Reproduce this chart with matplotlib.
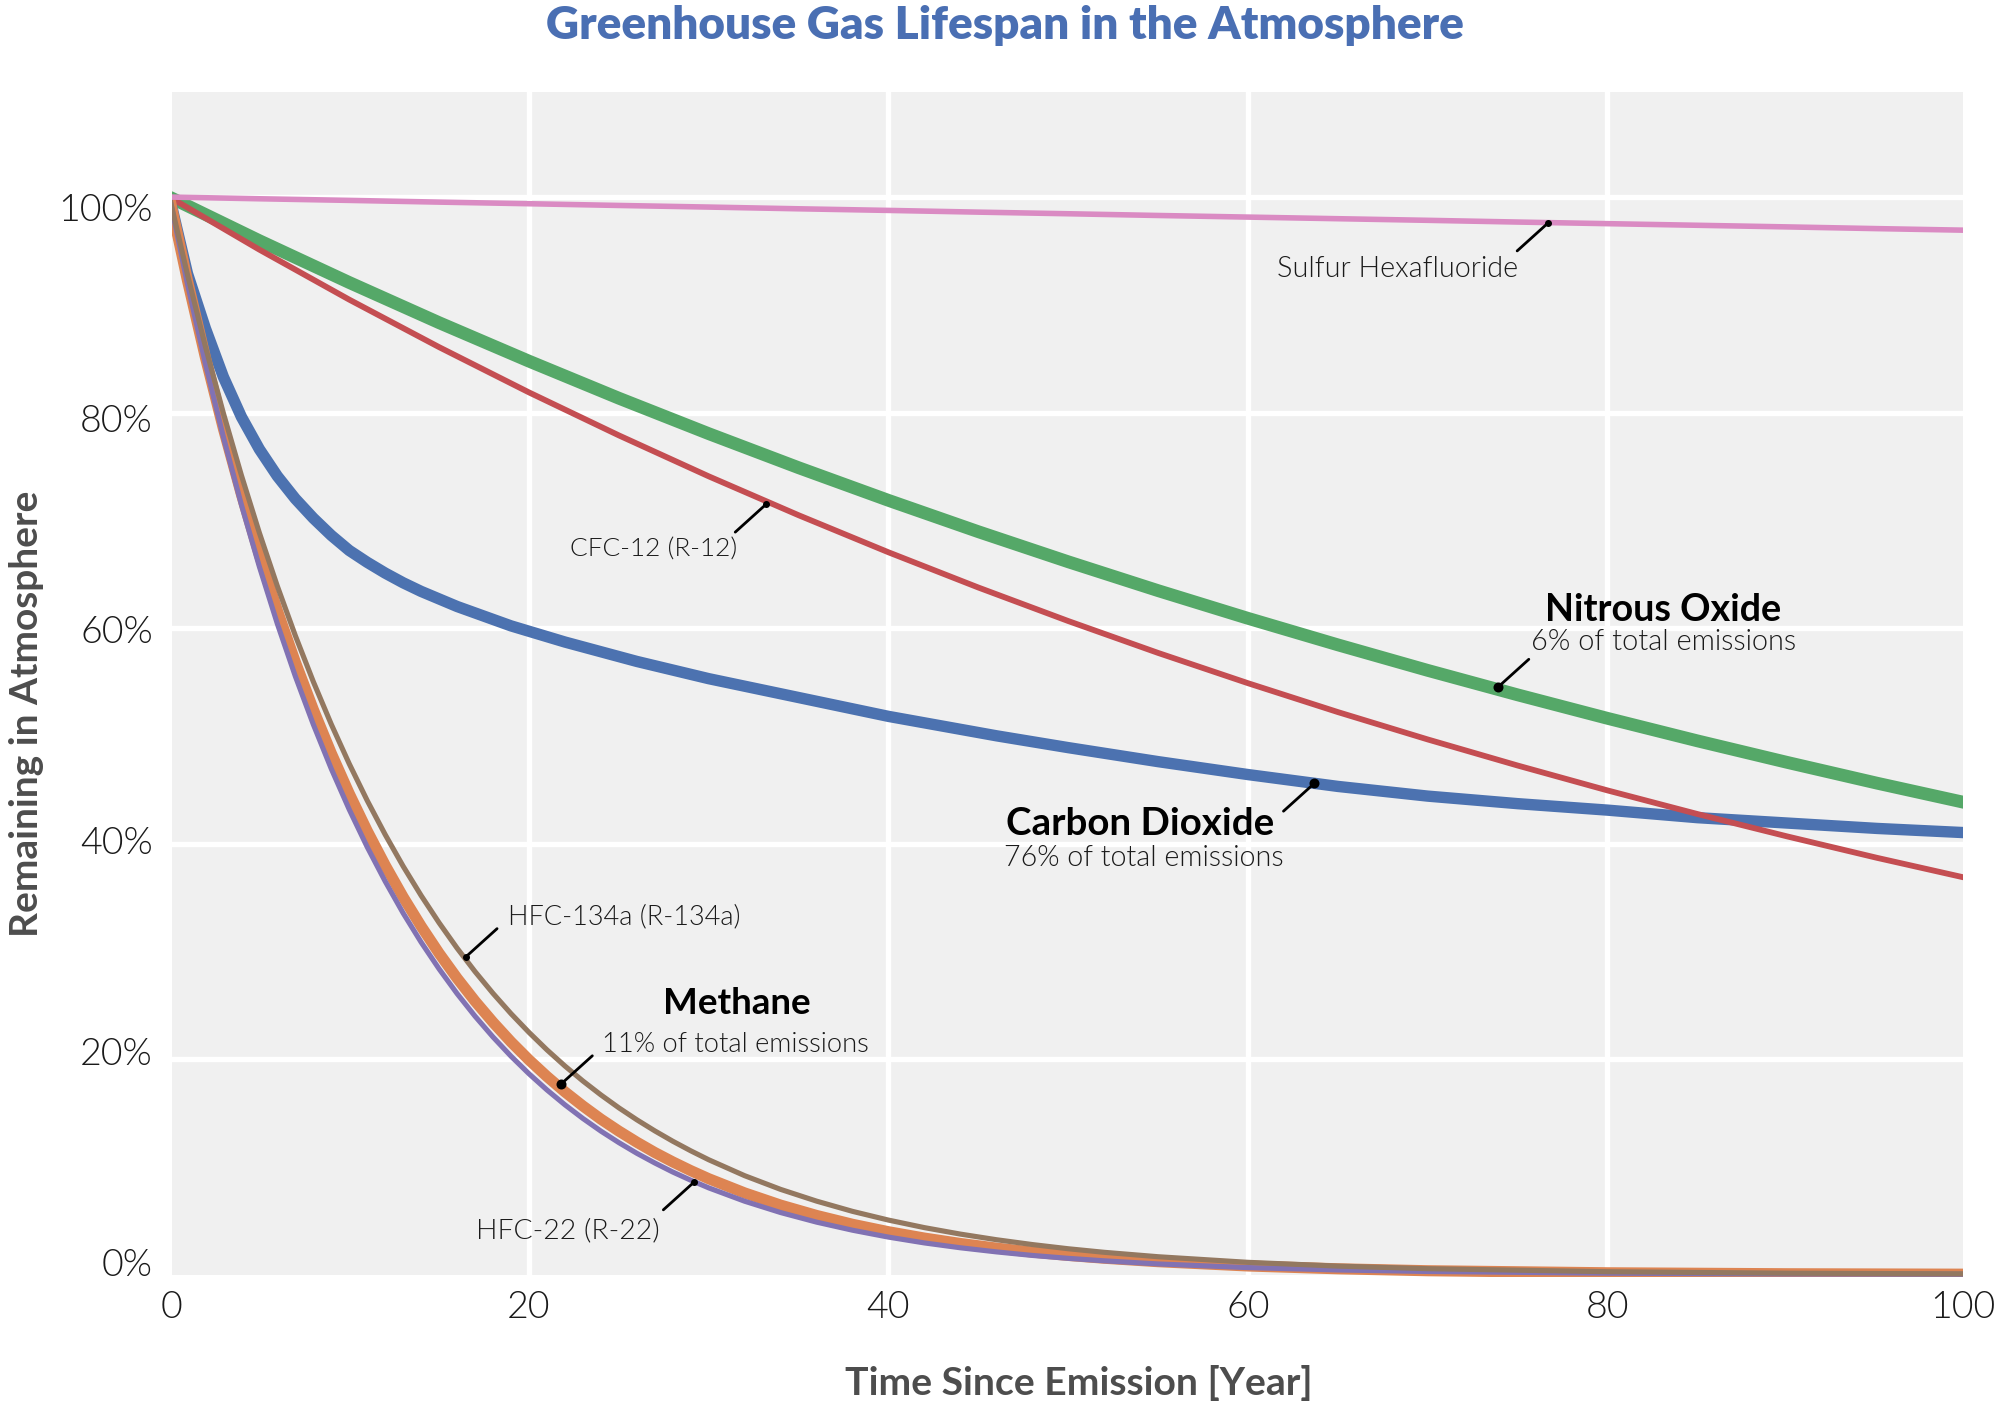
import matplotlib
matplotlib.use('Agg')
from matplotlib import pyplot as plt
from matplotlib.patches import Rectangle
from matplotlib.transforms import ScaledTranslation

# values, in % remaining
years_slow = [0, 5, 10, 15, 20, 25, 30, 35, 40, 45, 50, 55, 60, 65, 70, 75, 80, 85, 90, 95, 100]
nitrous_oxide = [100, 95.95, 92.07, 88.34, 84.77, 81.33, 78.04, 74.88, 71.85, 68.94, 66.15, 63.47, 60.90, 58.44, 56.07, 53.80, 51.62, 49.53, 47.53, 45.60, 43.76]
cfc_12 = [100, 95.12, 90.48, 86.07, 81.87, 77.88, 74.08, 70.47, 67.03, 63.76, 60.65, 57.69, 54.88, 52.20, 49.66, 47.24, 44.93, 42.74, 40.66, 38.67, 36.79]
sf6 = [100, 99.84, 99.69, 99.53, 99.38, 99.22, 99.07, 98.91, 98.76, 98.60, 98.45, 98.29, 98.14, 97.99, 97.84, 97.68, 97.53, 97.38, 97.23, 97.07, 96.92]

years_co2 = [0, 1, 2, 3, 4, 5, 6, 7, 8, 9, 10, 11, 12, 13, 14, 15, 16, 17, 18, 19, 20, 22, 24, 26, 28, 30, 32, 34, 36, 38, 40, 43, 46, 50, 55, 60, 65, 70, 75, 80, 85, 90, 95, 100]
carbon_dioxide = [100, 92.9, 87.8, 83.3, 79.6, 76.6, 74.1, 72.0, 70.2, 68.6, 67.2, 66.1, 65.1, 64.2, 63.4, 62.7, 62.0, 61.4, 60.8, 60.2, 59.7, 58.7, 57.8, 56.9, 56.1, 55.3, 54.6, 53.9, 53.2, 52.5, 51.8, 50.9, 50.0, 48.9, 47.6, 46.4, 45.3, 44.4, 43.7, 43.1, 42.4, 41.9, 41.4, 41]

years_fast = [0, 1, 2, 3, 4, 5, 6, 7, 8, 9, 10, 11, 12, 13, 14, 15, 16, 17, 18, 19, 20, 21, 22, 23, 24, 25, 26, 27, 28, 29, 30,
              32, 34, 36, 38, 40, 42, 44, 46, 48, 50, 52, 55, 60, 65, 70, 80, 90, 100]
hfc_22 = [100, 91.94, 84.53, 77.72, 71.45, 65.70, 60.40, 55.53, 51.06, 46.94, 43.16, 39.68, 36.49, 33.54, 30.84, 28.36, 26.07, 23.97, 22.04, 20.26, 18.63, 17.13, 15.75, 14.48, 13.31, 12.24, 11.25, 10.35, 9.51, 8.75, 8.04,
          6.80, 5.75, 4.86, 4.11, 3.47, 2.93, 2.48, 2.10, 1.77, 1.50, 1.27, 0.98, 0.64, 0.42, 0.28, 0.12, 0.05, 0.02]
methane = [100, 92.25, 85.10, 78.50, 72.42, 66.80, 61.63, 56.85, 52.44, 48.38, 44.63, 41.17, 37.98, 35.03, 32.32, 29.81, 27.50, 25.37, 23.41, 21.59, 19.92, 18.38, 16.95, 15.64, 14.42, 13.31, 12.28, 11.32, 10.45, 9.64, 8.89,
           7.57, 6.44, 5.48, 4.66, 3.97, 3.38, 2.88, 2.45, 2.08, 1.77, 1.51, 1.19, 0.79, 0.53, 0.35, 0.16, 0.07, 0.03]
hfc_134a = [100, 92.81, 86.12, 79.93, 74.18, 68.84, 63.89, 59.30, 55.03, 51.07, 47.40, 43.99, 40.83, 37.89, 35.17, 32.64, 30.29, 28.11, 26.09, 24.21, 22.47, 20.85, 19.35, 17.96, 16.67, 15.47, 14.36, 13.33, 12.37, 11.48, 10.65,
            9.17, 7.90, 6.81, 5.86, 5.05, 4.35, 3.75, 3.23, 2.78, 2.39, 2.06, 1.65, 1.13, 0.78, 0.54, 0.26, 0.12, 0.06]

x_ticks = [0, 20, 40, 60, 80, 100]
y_ticks = [0, 20, 40, 60, 80, 100]

FIG_W, FIG_H = 2000, 1405
FONT = 'Lato'
LIGHT = 300
XMIN, XMAX = 0.14, 99.78

fig = plt.figure(figsize=(20, 14.05), dpi=100, facecolor='white')
ax = fig.add_axes([172 / FIG_W, 1 - 1274.5 / FIG_H, 1791 / FIG_W, 1182.5 / FIG_H])
ax.set_facecolor('#f0f0f0')
ax.set_xlim(XMIN, XMAX)
ax.set_ylim(0, 109.75)
for s in ax.spines.values():
    s.set_visible(False)

for v in x_ticks[1:-1]:
    ax.axvline(v, color='white', lw=3.8, zorder=1)
for v in y_ticks[1:]:
    ax.axhline(v, color='white', lw=3.8, zorder=1)

clip = Rectangle((0, -0.002), 1, 1.004, transform=ax.transAxes)
series = [
    (years_slow, nitrous_oxide, '#55a868', 9.2),
    (years_co2, carbon_dioxide, '#4c72b0', 8.2),
    (years_slow, cfc_12, '#c44e52', 4.2),
    (years_fast, methane, '#dd8452', 8.0),
    (years_fast, hfc_22, '#8172b3', 3.7),
    (years_fast, hfc_134a, '#937860', 3.7),
    (years_slow, sf6, '#da8bc3', 4.0),
]
for i, (xs, ys, color, lw) in enumerate(series):
    line, = ax.plot(xs, ys, color=color, lw=lw, solid_capstyle='butt', zorder=2 + i)
    line.set_clip_path(clip)

ax.set_xticks([XMIN] + x_ticks[1:-1] + [XMAX])
ax.set_xticklabels([str(v) for v in x_ticks], family=FONT, weight=LIGHT, fontsize=27, color='#1a1a1a')
ax.set_yticks(y_ticks)
ax.set_yticklabels([f'{v}%' for v in y_ticks], family=FONT, weight=LIGHT, fontsize=27, color='#1a1a1a')
ax.tick_params(length=0, pad=0)
# labels in the reference sit a little off their gridlines
for v, lab in zip(y_ticks, ax.get_yticklabels()):
    dy = (11.5 - 0.215 * v) / 100
    lab.set_transform(lab.get_transform() + ScaledTranslation(-19 / 100, dy, fig.dpi_scale_trans))
for lab in ax.get_xticklabels():
    lab.set_transform(lab.get_transform() + ScaledTranslation(0, -17 / 100, fig.dpi_scale_trans))


def put(text, x, y, size, weight=LIGHT, color='#1a1a1a', ha='left', **kw):
    fig.text(x / FIG_W, 1 - y / FIG_H, text, family=FONT, weight=weight, fontsize=size,
             color=color, ha=ha, va='center', **kw)


def pointer(x, y, dx, dy, r):
    ax.annotate('', xy=(x, y), xytext=(dx, dy), textcoords='offset pixels', zorder=20,
                arrowprops=dict(arrowstyle='-', color='black', lw=2, shrinkA=0, shrinkB=0))
    ax.plot([x], [y], 'o', color='black', ms=r * 2 * 0.72, mew=0, zorder=21)


pointer(73.9, 54.5, 31, 28, 5)
pointer(63.7, 45.6, -31, -28, 5)
pointer(21.8, 17.7, 31, 28, 5)
pointer(16.5, 29.5, 31, 28, 3.5)
pointer(29.2, 8.6, -31, -28, 3.5)
pointer(33.2, 71.5, -31, -28, 3.5)
pointer(76.7, 97.6, -31, -28, 3.5)

put('Greenhouse Gas Lifespan in the Atmosphere', 1005, 25, 33, weight=800, color='#4a6fb3', ha='center')
put('Time Since Emission [Year]', 1079, 1383, 28.2, weight='bold', color='#4d4d4d', ha='center')
put('Remaining in Atmosphere', 27, 714, 28, weight='bold', color='#4d4d4d', ha='center', rotation=90)

put('Sulfur Hexafluoride', 1277, 269, 20.7)
put('CFC-12 (R-12)', 570, 550, 18.9)
put('HFC-134a (R-134a)', 508, 917, 19.5)
put('HFC-22 (R-22)', 476, 1231, 20.4)
put('Nitrous Oxide', 1545, 610, 27.2, weight='bold', color='black')
put('6% of total emissions', 1531, 642, 20.8)
put('Carbon Dioxide', 1006, 824, 27.7, weight='bold', color='black')
put('76% of total emissions', 1004, 858, 20.6)
put('Methane', 663, 1004, 26.5, weight='bold', color='black')
put('11% of total emissions', 602, 1044, 19.7)

fig.savefig('out.png', dpi=100)
